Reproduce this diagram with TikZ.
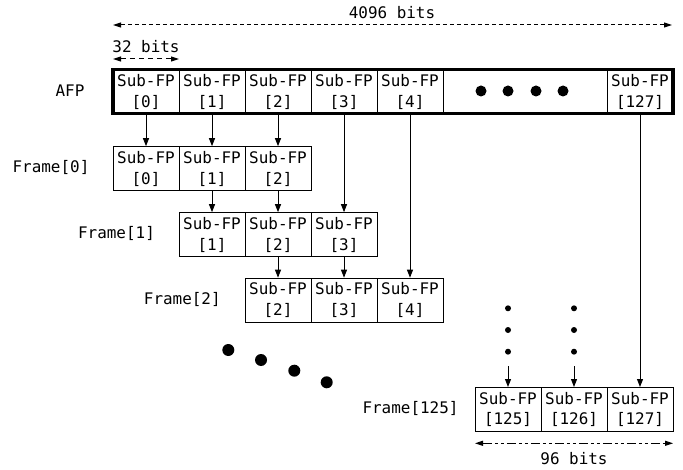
\documentclass[tikz,border=0pt]{standalone}
\usepackage{fontspec}
\newfontfamily\monof{DejaVu Sans Mono}
\usetikzlibrary{arrows.meta}
\tikzset{
  cell/.style={draw, line width=1bp, minimum width=66bp, minimum height=44bp, inner sep=0pt, align=center, font=\monof\fontsize{16}{21}\selectfont},
  lbl/.style={inner sep=0pt, font=\monof\fontsize{16}{19}\selectfont},
  arr/.style={line width=1bp, -{Triangle[length=8bp,width=6bp]}},
  dim/.style={line width=1bp, {Triangle[length=8bp,width=5bp]}-{Triangle[length=8bp,width=5bp]}},
  bigdot/.style={fill=black},
}
\begin{document}
\begin{tikzpicture}[x=1bp,y=-1bp]
\useasboundingbox (0,0) rectangle (683,470);
% AFP row
\node[cell] (a0) at (146,91.7) {Sub-FP\\{[0]}};
\node[cell] (a1) at (212,91.7) {Sub-FP\\{[1]}};
\node[cell] (a2) at (278,91.7) {Sub-FP\\{[2]}};
\node[cell] (a3) at (344,91.7) {Sub-FP\\{[3]}};
\node[cell] (a4) at (410,91.7) {Sub-FP\\{[4]}};
\node[cell] (a127) at (640,91.7) {Sub-FP\\{[127]}};
\draw[line width=3.5bp] (113,69.7) rectangle (673,113.7);
\foreach \x in {481,508,536,563} \fill (\x,91) circle (5.5bp);
\node[lbl] (afp) at (70,91) {AFP};
% dimension arrows
\coordinate (t1) at (113,25);
\coordinate (t2) at (672,25);
\draw[dim, dash pattern=on 4bp off 3bp] (t1) -- (t2);
\node[lbl] (t4096) at (392,13) {4096 bits};
\coordinate (s1) at (113,59);
\coordinate (s2) at (179,59);
\draw[dim, dash pattern=on 5bp off 4bp] (s1) -- (s2);
\node[lbl] (t32) at (146,46.5) {32 bits};
% Frame[0]
\node[lbl] (fl0) at (51,167.3) {Frame[0]};
\node[cell] (f00) at (146,168.7) {Sub-FP\\{[0]}};
\node[cell] (f01) at (212,168.7) {Sub-FP\\{[1]}};
\node[cell] (f02) at (278,168.7) {Sub-FP\\{[2]}};
% Frame[1]
\node[lbl] (fl1) at (116.5,233.3) {Frame[1]};
\node[cell] (f11) at (212,234.7) {Sub-FP\\{[1]}};
\node[cell] (f12) at (278,234.7) {Sub-FP\\{[2]}};
\node[cell] (f13) at (344,234.7) {Sub-FP\\{[3]}};
% Frame[2]
\node[lbl] (fl2) at (182.3,299) {Frame[2]};
\node[cell] (f22) at (278,300.2) {Sub-FP\\{[2]}};
\node[cell] (f23) at (344,300.2) {Sub-FP\\{[3]}};
\node[cell] (f24) at (410,300.2) {Sub-FP\\{[4]}};
% Frame[125]
\node[lbl] (fl125) at (410.5,408.3) {Frame[125]};
\node[cell] (g125) at (508,409.5) {Sub-FP\\{[125]}};
\node[cell] (g126) at (574,409.5) {Sub-FP\\{[126]}};
\node[cell] (g127) at (640,409.5) {Sub-FP\\{[127]}};
% arrows
\draw[arr] (a0.south) -- (f00.north);
\draw[arr] (a1.south) -- (f01.north);
\draw[arr] (a2.south) -- (f02.north);
\draw[arr] (a3.south) -- (f13.north);
\draw[arr] (a4.south) -- (f24.north);
\draw[arr] (a127.south) -- (g127.north);
\draw[arr] (f01.south) -- (f11.north);
\draw[arr] (f02.south) -- (f12.north);
\draw[arr] (f12.south) -- (f22.north);
\draw[arr] (f13.south) -- (f23.north);
% dotted columns
\foreach \x in {508,574} {
  \foreach \y in {308.3,330,351.7} \fill (\x,\y) circle (3bp);
}
\coordinate (c125) at (508,366);
\coordinate (c126) at (574,366);
\draw[arr] (c125) -- (g125.north);
\draw[arr] (c126) -- (g126.north);
% diagonal dots
\fill (228.3,350) circle (6bp);
\fill (261,360) circle (6bp);
\fill (294.3,370.7) circle (6bp);
\fill (326.7,382.3) circle (6bp);
% 96 bits
\coordinate (n1) at (475,443.3);
\coordinate (n2) at (673,443.3);
\draw[dim, dash pattern=on 9bp off 3bp on 3bp off 3bp on 3bp off 3bp] (n1) -- (n2);
\node[lbl] (t96) at (574,459) {96 bits};
\end{tikzpicture}
\end{document}
